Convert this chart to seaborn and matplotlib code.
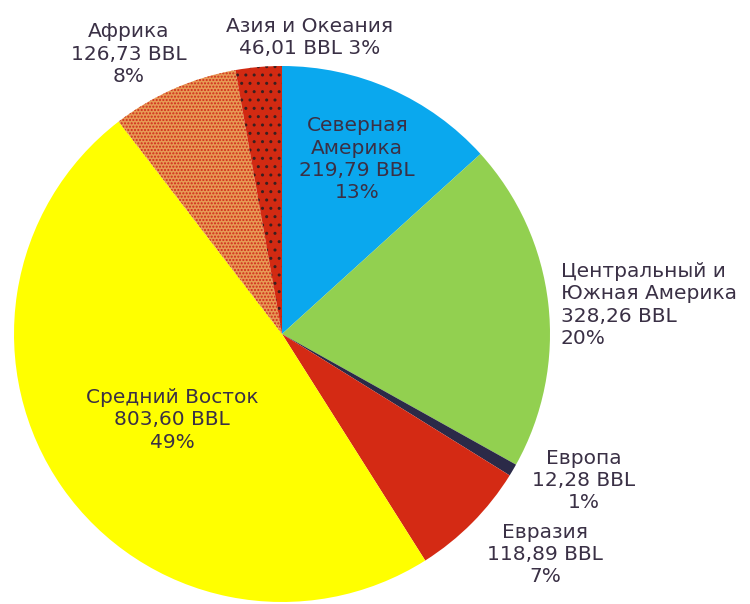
import numpy as np
import matplotlib
matplotlib.use("Agg")
import matplotlib.pyplot as plt
import seaborn as sns

# oil reserves by region, billions of barrels
regions = ["Северная\nАмерика", "Центральный и\nЮжная Америка", "Европа",
           "Евразия", "Средний Восток", "Африка", "Азия и Океания"]
reserves = [219.79, 328.26, 12.28, 118.89, 803.60, 126.73, 46.01]
colors = ["#0AA8EE", "#92D050", "#2B2A48", "#D42A14", "#FFFF00", "#E79A55", "#D22A12"]
hatches = [None, None, None, None, None, ".....", ".."]
hatch_colors = [None, None, None, None, None, "#D0281A", "#3A2020"]

# label placement: radius factor, angle shift (deg), alignment
label_r = [0.71, 1.045, 1.25, 1.28, 0.52, 1.19, 1.11]
label_shift = [0.6, -0.6, 4.6, 4.8, 3.1, 4.9, -10.4]
label_ha = ["center", "left", "center", "center", "center", "center", "center"]

sns.set_style("white")
plt.rcParams['font.family'] = ['DejaVu Sans']

fig = plt.figure(figsize=(7.5, 6.04), dpi=100)
ax = fig.add_axes([0, 0, 1, 1])

wedges, _ = ax.pie(reserves, colors=colors, startangle=90, counterclock=False,
                   radius=1.0, wedgeprops=dict(linewidth=0))

for w, h, hc in zip(wedges, hatches, hatch_colors):
    if h:
        w.set_hatch(h)
        w.set_edgecolor(hc)

total = sum(reserves)
for i, (w, name, v) in enumerate(zip(wedges, regions, reserves)):
    mid = np.deg2rad((w.theta1 + w.theta2) / 2 + label_shift[i])
    x = label_r[i] * np.cos(mid)
    y = label_r[i] * np.sin(mid)
    val = f"{v:.2f}".replace(".", ",") + " BBL"
    pct = f"{round(v / total * 100)}%"
    if name == "Азия и Океания":
        txt = f"{name}\n{val} {pct}"
    else:
        txt = f"{name}\n{val}\n{pct}"
    ax.text(x, y, txt, ha=label_ha[i], va="center", multialignment=label_ha[i],
            fontsize=14.5, color="#3A3045", linespacing=1.22)

# map the pie: centre at (282, 334) px, radius 268 px
ax.set_xlim(-282 / 268, (750 - 282) / 268)
ax.set_ylim(-(604 - 334) / 268, 334 / 268)
ax.set_aspect("auto")
ax.axis("off")

fig.savefig("out.png", dpi=100)
